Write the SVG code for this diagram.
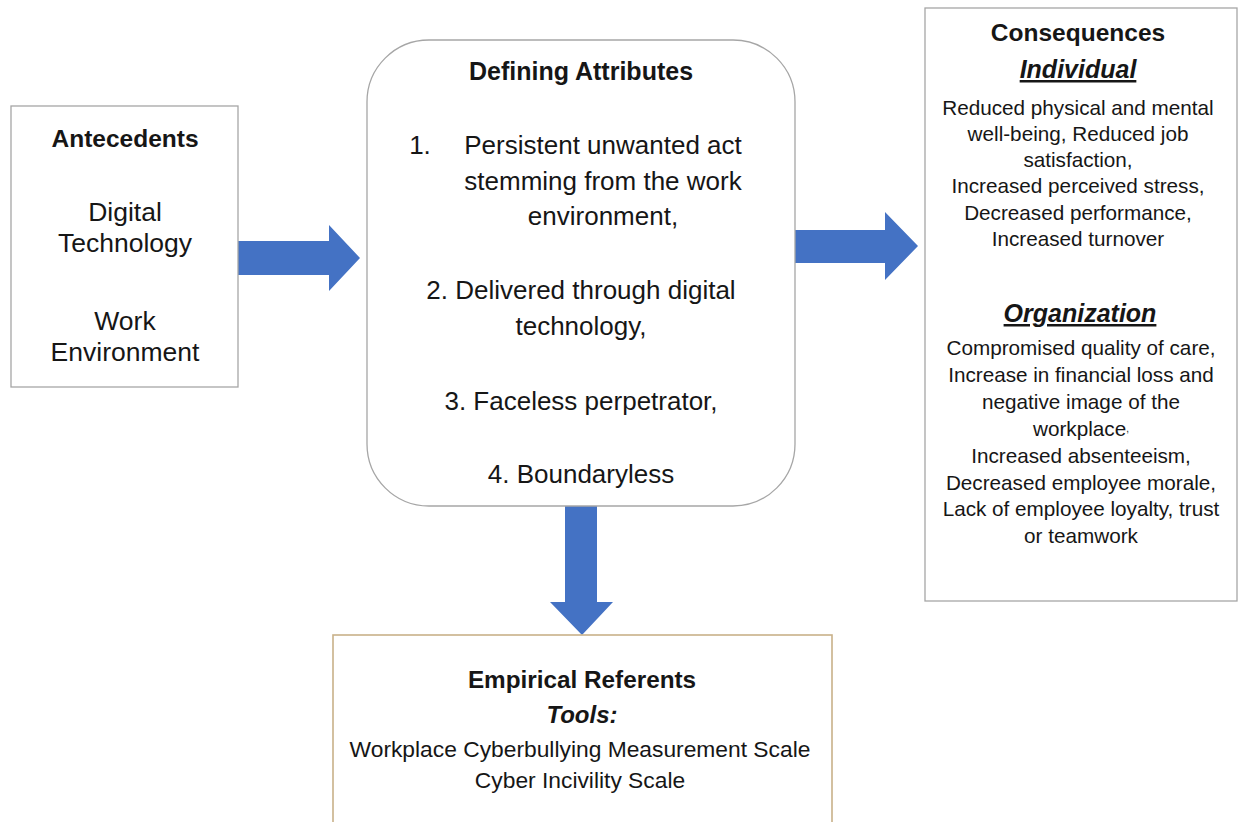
<svg xmlns="http://www.w3.org/2000/svg" width="1238" height="822" viewBox="0 0 1238 822">
  <style>
    .box { fill: #ffffff; stroke: #a6a6a6; stroke-width: 1.3; }
    .box-tan { fill: #ffffff; stroke: #c9b189; stroke-width: 1.6; }
    .arrow { fill: #4472c4; }
    text { font-family: "Liberation Sans", Arial, sans-serif; fill: #161616; text-anchor: middle; }
    .title { font-weight: bold; }
    .sub { font-weight: bold; font-style: italic; }
    .ul { text-decoration: underline; }
  </style>

  <rect width="1238" height="822" fill="#ffffff"/>

  <!-- connectors: thick block arrows -->
  <g id="connectors">
    <polygon class="arrow" points="238,241 329,241 329,225 360,258 329,291 329,275 238,275"/>
    <polygon class="arrow" points="795,230 885,230 885,212 918,246 885,280 885,263 795,263"/>
    <polygon class="arrow" points="565,506 565,602 550,602 582,635 613,602 597,602 597,506"/>
  </g>

  <g id="antecedents">
    <rect class="box" x="11" y="106" width="227" height="281"/>
    <text class="title" x="125" y="147" font-size="24.5">Antecedents</text>
    <text x="125" y="221" font-size="26.5">Digital</text>
    <text x="125" y="252" font-size="26.5">Technology</text>
    <text x="125" y="330" font-size="26.5">Work</text>
    <text x="125" y="361" font-size="26.5">Environment</text>
  </g>

  <g id="defining-attributes">
    <rect class="box" x="367" y="40" width="428" height="466" rx="62" ry="62"/>
    <text class="title" x="581" y="80" font-size="25">Defining Attributes</text>
    <text x="420" y="154" font-size="26" text-anchor="start">1.</text>
    <text x="603" y="154" font-size="26">Persistent unwanted act</text>
    <text x="603" y="190" font-size="26">stemming from the work</text>
    <text x="603" y="225" font-size="26">environment,</text>
    <text x="581" y="299" font-size="26">2. Delivered through digital</text>
    <text x="581" y="335" font-size="26">technology,</text>
    <text x="581" y="410" font-size="26">3. Faceless perpetrator,</text>
    <text x="581" y="483" font-size="26">4. Boundaryless</text>
  </g>

  <g id="consequences">
    <rect class="box" x="925" y="8" width="312" height="593"/>
    <text class="title" x="1078" y="41" font-size="24.5">Consequences</text>
    <text class="sub ul" x="1078" y="78" font-size="25">Individual</text>
    <text x="1078" y="115" font-size="20.7">Reduced physical and mental</text>
    <text x="1078" y="141" font-size="20.7">well-being, Reduced job</text>
    <text x="1078" y="167" font-size="20.7">satisfaction,</text>
    <text x="1078" y="193" font-size="20.7">Increased perceived stress,</text>
    <text x="1078" y="220" font-size="20.7">Decreased performance,</text>
    <text x="1078" y="246" font-size="20.7">Increased turnover</text>
    <text class="sub ul" x="1080" y="322" font-size="25">Organization</text>
    <text x="1081" y="355" font-size="20.7">Compromised quality of care,</text>
    <text x="1081" y="382" font-size="20.7">Increase in financial loss and</text>
    <text x="1081" y="409" font-size="20.7">negative image of the</text>
    <text x="1081" y="436" font-size="20.7">workplace<tspan font-size="10" dy="-4">,</tspan></text>
    <text x="1081" y="463" font-size="20.7">Increased absenteeism,</text>
    <text x="1081" y="490" font-size="20.7">Decreased employee morale,</text>
    <text x="1081" y="516" font-size="20.7">Lack of employee loyalty, trust</text>
    <text x="1081" y="543" font-size="20.7">or teamwork</text>
  </g>

  <g id="empirical-referents">
    <rect class="box-tan" x="333" y="635" width="499" height="200"/>
    <text class="title" x="582" y="688" font-size="24.3">Empirical Referents</text>
    <text class="sub" x="582" y="723" font-size="24">Tools:</text>
    <text x="580" y="757" font-size="22.8">Workplace Cyberbullying Measurement Scale</text>
    <text x="580" y="788" font-size="22.8">Cyber Incivility Scale</text>
  </g>
</svg>
